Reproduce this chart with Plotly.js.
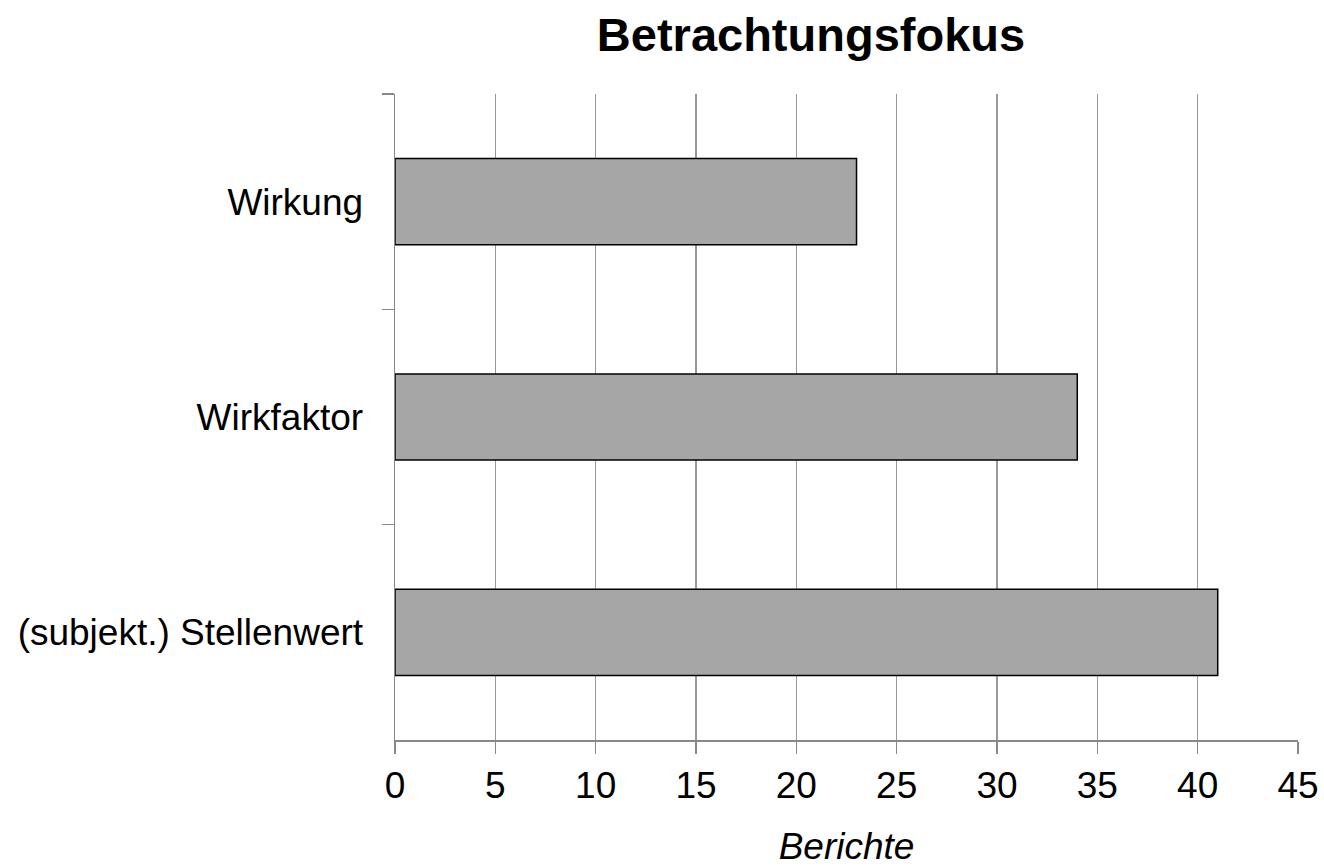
<!DOCTYPE html>
<html>
<head>
<meta charset="utf-8">
<script src="https://cdn.plot.ly/plotly-3.0.1.min.js"></script>
<style>html,body{margin:0;padding:0;background:#fff;}#chart{width:1324px;height:867px;}</style>
</head>
<body>
<div id="chart"></div>
<script>
const categories = ['Wirkung', 'Wirkfaktor', '(subjekt.) Stellenwert'];
const berichte = [23, 34, 41];
const xTicks = [0, 5, 10, 15, 20, 25, 30, 35, 40, 45];

const trace = {
  type: 'bar',
  orientation: 'h',
  y: categories,
  x: berichte,
  marker: {color: '#a6a6a6', line: {color: '#000000', width: 1.5}},
  hoverinfo: 'none'
};

const layout = {
  width: 1324, height: 867,
  margin: {l: 395, r: 26, t: 94, b: 127},
  paper_bgcolor: '#ffffff', plot_bgcolor: '#ffffff',
  font: {family: 'Liberation Sans, Arial, sans-serif', color: '#000000', size: 37},
  showlegend: false,
  bargap: 0.6,
  title: {
    text: '<b>Betrachtungsfokus</b>',
    font: {size: 47, color: '#000000'},
    x: 0.4607, xref: 'paper', xanchor: 'center',
    y: 0.96, yref: 'container', yanchor: 'middle'
  },
  xaxis: {
    range: [0, 45],
    tickvals: xTicks,
    ticktext: xTicks.map(String),
    showgrid: true, gridcolor: '#999999', gridwidth: 1.5,
    showline: true, linecolor: '#888888', linewidth: 1.5,
    ticks: 'outside', ticklen: 12, tickcolor: '#888888', tickwidth: 1.5,
    tickfont: {size: 37},
    zeroline: false,
    title: {text: '<i>Berichte</i>', font: {size: 37}, standoff: 33}
  },
  yaxis: {
    type: 'category',
    autorange: 'reversed',
    showgrid: false,
    showline: true, linecolor: '#888888', linewidth: 1.5,
    ticks: 'outside', ticklen: 12, tickcolor: '#888888', tickwidth: 1.5,
    tickson: 'boundaries',
    tickfont: {size: 37},
    ticklabelstandoff: 23,
    zeroline: false
  }
};

Plotly.newPlot('chart', [trace], layout, {staticPlot: true, displayModeBar: false});
</script>
</body>
</html>
